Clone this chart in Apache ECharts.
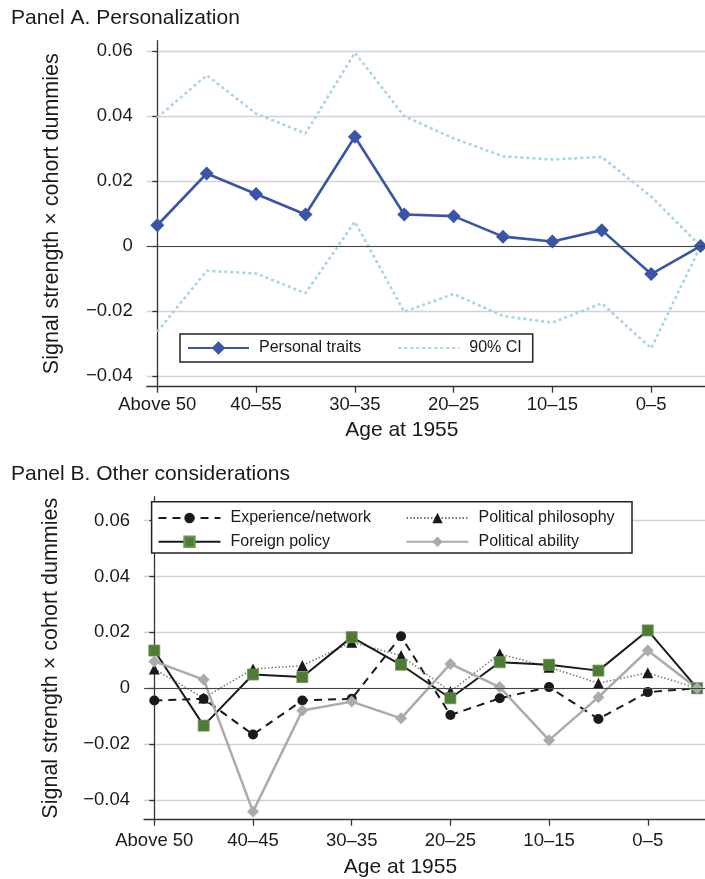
<!DOCTYPE html>
<html><head><meta charset="utf-8">
<script src="https://cdn.jsdelivr.net/npm/echarts@6/dist/echarts.min.js"></script>
<style>html,body{margin:0;padding:0;background:#fff}#c{width:705px;height:879px}</style>
</head><body><div id="c"></div>
<script>
// ---- data ----
const cohortIndex = [0,1,2,3,4,5,6,7,8,9,10,11];
const tickPositions = [0,2,4,6,8,10];
const tickLabelsA = ['Above 50','40–55','30–35','20–25','10–15','0–5'];
const tickLabelsB = ['Above 50','40–45','30–35','20–25','10–15','0–5'];
const yTickValues = [-0.04,-0.02,0,0.02,0.04,0.06];
const yTickLabels = ['−0.04','−0.02','0','0.02','0.04','0.06'];

const personalTraits = [0.0064,0.0223,0.0160,0.0097,0.0336,0.0097,0.0092,0.0029,0.0014,0.0049,-0.0086,0];
const ciUpper = [0.0395,0.0525,0.0407,0.0346,0.0594,0.0399,0.0331,0.0276,0.0266,0.0274,0.0152,0];
const ciLower = [-0.0263,-0.0076,-0.0084,-0.0145,0.0075,-0.0202,-0.0147,-0.0215,-0.0235,-0.0176,-0.0314,0];

const experienceNetwork = [-0.0044,-0.0038,-0.0166,-0.0044,-0.0038,0.0186,-0.0096,-0.0036,0.0004,-0.0110,-0.0014,0];
const politicalPhilosophy = [0.0069,-0.0035,0.0069,0.0081,0.0165,0.0117,-0.0012,0.0123,0.0075,0.0018,0.0055,0];
const foreignPolicy = [0.0135,-0.0134,0.0049,0.0040,0.0183,0.0084,-0.0036,0.0093,0.0084,0.0063,0.0207,0];
const politicalAbility = [0.0096,0.0031,-0.0442,-0.0080,-0.0048,-0.0108,0.0087,0.0004,-0.0186,-0.0032,0.0135,0];

// ---- styling ----
const FONT = '"Liberation Sans", Arial, Helvetica, sans-serif';
const TXT = '#1a1a1a';
const AX = '#333333';

function pairs(vals){ return cohortIndex.map((x,i)=>[x, vals[i]]); }
function yLabel(v){
  const i = yTickValues.findIndex(t => Math.abs(t - v) < 1e-9);
  return i >= 0 ? yTickLabels[i] : '';
}
function makeX(gi, labels, min, max, margin, nameGap){
  return {
    type:'value', gridIndex:gi, min:min, max:max,
    name:'Age at 1955', nameLocation:'middle', nameGap:nameGap,
    nameTextStyle:{fontSize:21, color:TXT, fontFamily:FONT, padding:[0,48,0,0]},
    axisLine:{show:true, onZero:false, lineStyle:{color:AX, width:1.3}},
    axisTick:{show:true, customValues:tickPositions, length:6, lineStyle:{color:AX, width:1.3}},
    axisLabel:{customValues:tickPositions, fontSize:18.5, color:TXT, fontFamily:FONT, margin:margin,
      formatter:function(v){ const i = tickPositions.indexOf(Math.round(v)); return i>=0 ? labels[i] : ''; }},
    splitLine:{show:false}
  };
}
function makeY(gi, min, max, nameGap){
  return {
    type:'value', gridIndex:gi, min:min, max:max,
    name:'Signal strength × cohort dummies', nameLocation:'middle', nameGap:nameGap,
    nameTextStyle:{fontSize:21.5, color:TXT, fontFamily:FONT},
    axisLine:{show:true, lineStyle:{color:AX, width:1.3}},
    axisTick:{show:true, customValues:yTickValues, length:5, lineStyle:{color:AX, width:1.3}},
    axisLabel:{customValues:yTickValues, fontSize:18.5, color:TXT, fontFamily:FONT, margin:14, formatter:yLabel},
    splitLine:{show:true, lineStyle:{color:'#d3d3d3', width:1.3}}
  };
}
const zeroLine = {
  silent:true, symbol:['none','none'], label:{show:false},
  lineStyle:{color:'#444', width:1.1, type:'solid'},
  data:[{yAxis:0}], animation:false
};

const option = {
  animation:false,
  textStyle:{fontFamily:FONT},
  title:[
    {text:'Panel A. Personalization', left:11, top:8, padding:0,
     textStyle:{fontSize:21, fontWeight:'normal', color:TXT, fontFamily:FONT}},
    {text:'Panel B. Other considerations', left:11, top:464, padding:0,
     textStyle:{fontSize:21, fontWeight:'normal', color:TXT, fontFamily:FONT}}
  ],
  grid:[
    {left:146.7, top:40.7, right:0, height:346},
    {left:144, top:496.7, right:0, height:323}
  ],
  xAxis:[
    makeX(0, tickLabelsA, -0.215, 11.09, 9, 33),
    makeX(1, tickLabelsB, -0.209, 11.16, 12, 37)
  ],
  yAxis:[
    makeY(0, -0.0432, 0.0631, 84),
    makeY(1, -0.0471, 0.0686, 82)
  ],
  legend:[
    {data:['Personal traits', {name:'90% CI', itemStyle:{opacity:0}}], left:180, top:334, orient:'horizontal',
     itemWidth:61, itemHeight:17, itemGap:36, padding:[6,11,6,7],
     borderColor:'#222', borderWidth:1.5, backgroundColor:'#fff',
     textStyle:{fontSize:16, color:TXT, fontFamily:FONT, padding:[0,0,0,5]}},
    {data:['Experience/network','Foreign policy'], left:157.5, top:510, orient:'vertical',
     itemWidth:62, itemHeight:13, itemGap:7.7, padding:0,
     textStyle:{fontSize:16, color:TXT, fontFamily:FONT, padding:[0,0,0,5]}},
    {data:['Political philosophy','Political ability'], left:405.5, top:510, orient:'vertical',
     itemWidth:62, itemHeight:13, itemGap:7.7, padding:0,
     textStyle:{fontSize:16, color:TXT, fontFamily:FONT, padding:[0,0,0,5]}}
  ],
  graphic:[
    {type:'rect', z:3, shape:{x:151.6, y:501.7, width:480.4, height:51.3},
     style:{fill:'#fff', stroke:'#222', lineWidth:1.5}}
  ],
  series:[
    {name:'90% CI', type:'line', xAxisIndex:0, yAxisIndex:0, data:pairs(ciUpper),
     symbol:'none', lineStyle:{color:'#a6d5e6', width:2.6, type:[3,3]}, itemStyle:{color:'#a6d5e6'},
     markLine:zeroLine, z:2},
    {name:'90% CI', type:'line', xAxisIndex:0, yAxisIndex:0, data:pairs(ciLower),
     symbol:'none', lineStyle:{color:'#a6d5e6', width:2.6, type:[3,3]}, itemStyle:{color:'#a6d5e6'}, z:2},
    {name:'Personal traits', type:'line', xAxisIndex:0, yAxisIndex:0, data:pairs(personalTraits),
     symbol:'diamond', symbolSize:14, lineStyle:{color:'#3a55a6', width:2.6},
     itemStyle:{color:'#3a55a6'}, z:3},

    {name:'Experience/network', type:'line', xAxisIndex:1, yAxisIndex:1, data:pairs(experienceNetwork),
     symbol:'circle', symbolSize:10, lineStyle:{color:'#1a1a1a', width:2, type:[8,6]},
     itemStyle:{color:'#1a1a1a'}, markLine:zeroLine, z:2},
    {name:'Political philosophy', type:'line', xAxisIndex:1, yAxisIndex:1, data:pairs(politicalPhilosophy),
     symbol:'triangle', symbolSize:11, lineStyle:{color:'#777', width:1.5, type:[1.5,2]},
     itemStyle:{color:'#1a1a1a'}, z:2},
    {name:'Foreign policy', type:'line', xAxisIndex:1, yAxisIndex:1, data:pairs(foreignPolicy),
     symbol:'rect', symbolSize:11, lineStyle:{color:'#1a1a1a', width:2},
     itemStyle:{color:'#4f7c35', borderColor:'#6b9550', borderWidth:0.8}, z:2},
    {name:'Political ability', type:'line', xAxisIndex:1, yAxisIndex:1, data:pairs(politicalAbility),
     symbol:'diamond', symbolSize:12, lineStyle:{color:'#ababab', width:2.5},
     itemStyle:{color:'#ababab'}, z:2}
  ]
};
const chart = echarts.init(document.getElementById('c'), null, {renderer:'canvas'});
chart.setOption(option);
</script>
</body></html>
